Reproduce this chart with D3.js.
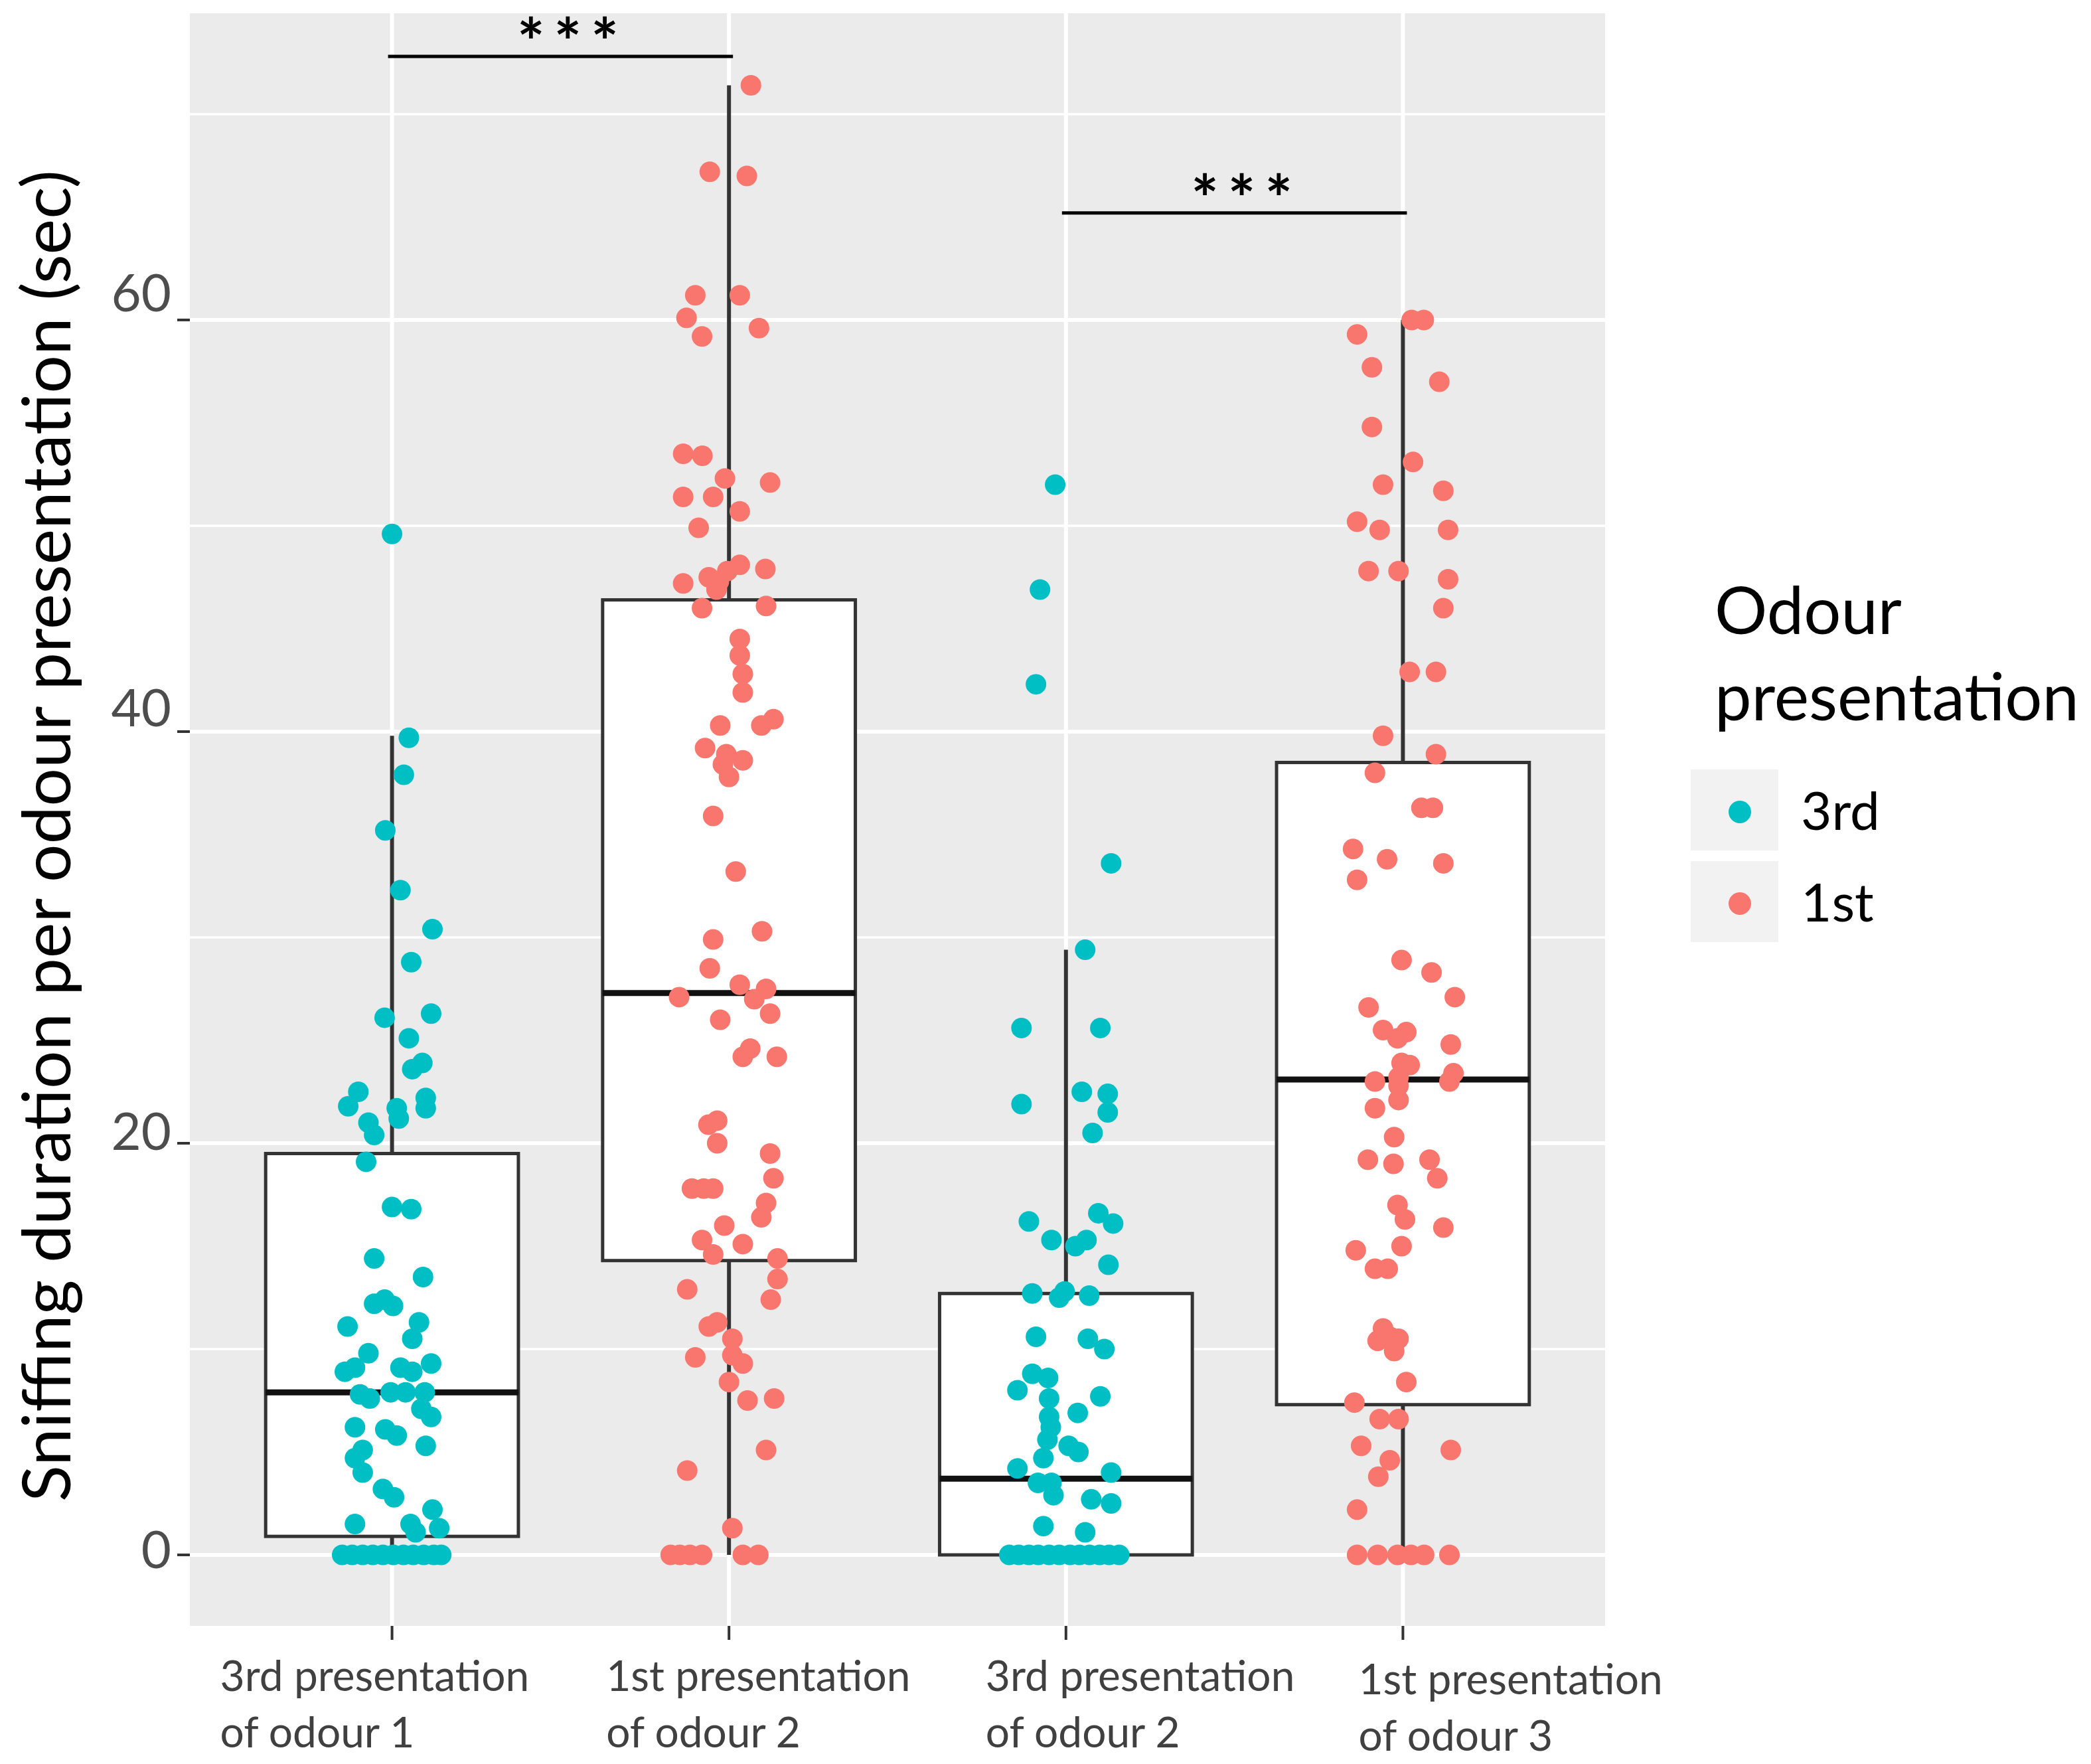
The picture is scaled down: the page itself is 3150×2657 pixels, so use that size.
<!DOCTYPE html>
<html lang="en">
<head>
<meta charset="utf-8">
<script src="https://d3js.org/d3.v7.min.js"></script>
<style type="text/css">
body {
  margin: 0;
  background: #fff;
}
svg text {
  font-family: Lato, "Open Sans", sans-serif;
}
</style>
</head>
<body>
<script type="text/javascript">

// ---- data ----
var categories = ["3rd presentation\nof odour 1", "1st presentation\nof odour 2",
                  "3rd presentation\nof odour 2", "1st presentation\nof odour 3"];
var groupSeries = ["3rd", "1st", "3rd", "1st"];
var seriesNames = ["3rd", "1st"];
var seriesColors = ["#00BFC4", "#F8766D"];

// box statistics (sec)
var whiskerLow = [0, 0, 0, 0];
var q1 = [0.9, 14.3, 0, 7.3];
var median = [7.9, 27.3, 3.7, 23.1];
var q3 = [19.5, 46.4, 12.7, 38.5];
var whiskerHigh = [39.8, 71.4, 29.4, 60.0];

// jittered points: [offset from category (category units), value]
var pts1 = [[0,49.6],[0.05,39.7],[0.035,37.9],[-0.02,35.2],[0.025,32.3],[0.12,30.4],[0.057,28.8],
  [-0.022,26.1],[0.116,26.3],[0.05,25.1],[0.06,23.6],[0.09,23.9],[-0.1,22.5],[-0.13,21.8],
  [-0.07,21.0],[-0.053,20.4],[0.014,21.7],[0.02,21.2],[0.1,22.2],[0.1,21.7],[-0.077,19.1],
  [0,16.9],[0.057,16.8],[-0.053,14.4],[0.092,13.5],[-0.053,12.2],[-0.022,12.4],[0.003,12.1],
  [-0.132,11.1],[0.08,11.3],[0.06,10.5],[-0.07,9.8],[-0.11,9.1],[-0.14,8.9],[0.025,9.1],
  [0.06,8.9],[0.116,9.3],[-0.095,7.8],[-0.066,7.6],[-0.004,7.9],[0.04,7.9],[0.097,7.9],
  [0.087,7.1],[0.116,6.7],[-0.11,6.2],[-0.02,6.1],[0.014,5.8],[0.1,5.3],[-0.087,5.1],
  [-0.11,4.7],[-0.087,4.0],[-0.027,3.2],[0.006,2.8],[-0.11,1.5],[0.055,1.5],[0.07,1.1],
  [0.12,2.2],[0.14,1.3],[-0.148,0],[-0.118,0],[-0.087,0],[-0.057,0],[-0.027,0],[0.004,0],
  [0.034,0],[0.063,0],[0.094,0],[0.124,0],[0.146,0]];

var pts2 = [[0.065,71.4],[-0.057,67.2],[0.053,67.0],[-0.1,61.2],[0.032,61.2],[-0.126,60.1],
  [-0.08,59.2],[0.089,59.6],[-0.136,53.5],[-0.079,53.4],[-0.012,52.3],[0.122,52.1],
  [-0.136,51.4],[-0.047,51.4],[0.032,50.7],[-0.09,49.9],[-0.136,47.2],[-0.06,47.5],
  [-0.03,47.3],[-0.005,47.8],[-0.037,46.9],[0.032,48.1],[0.108,47.9],[-0.08,46.0],
  [0.11,46.1],[0.032,44.5],[0.032,43.7],[0.041,42.8],[0.041,41.9],[-0.026,40.3],
  [0.096,40.3],[0.132,40.6],[-0.071,39.2],[-0.008,38.9],[-0.018,38.4],[0.041,38.6],
  [0,37.8],[-0.047,35.9],[0.02,33.2],[-0.047,29.9],[0.098,30.3],[-0.057,28.5],[0.032,27.7],
  [-0.148,27.1],[0.075,27.0],[0.11,27.5],[-0.026,26.0],[0.122,26.3],[0.063,24.6],
  [0.041,24.2],[0.142,24.2],[-0.035,21.1],[-0.061,20.9],[-0.035,20.0],[0.122,19.5],
  [0.132,18.3],[-0.11,17.8],[-0.075,17.8],[-0.047,17.8],[0.11,17.1],[0.096,16.4],
  [-0.014,16.0],[-0.08,15.3],[-0.047,14.6],[0.041,15.1],[0.144,14.4],[0.144,13.4],
  [-0.124,12.9],[0.124,12.4],[-0.035,11.3],[-0.06,11.1],[0.01,10.5],[-0.1,9.6],[0.01,9.7],
  [0.041,9.3],[0,8.4],[0.055,7.5],[0.134,7.6],[0.11,5.1],[-0.124,4.1],[0.01,1.3],
  [-0.173,0],[-0.146,0],[-0.116,0],[-0.08,0],[0.041,0],[0.087,0]];

var pts3 = [[-0.032,52.0],[-0.077,46.9],[-0.089,42.3],[0.134,33.6],[0.057,29.4],[-0.132,25.6],
  [0.102,25.6],[-0.132,21.9],[0.047,22.5],[0.124,22.4],[0.124,21.5],[0.079,20.5],
  [-0.11,16.2],[-0.043,15.3],[0.028,15.0],[0.061,15.3],[0.096,16.6],[0.14,16.1],
  [0.126,14.1],[-0.1,12.7],[-0.02,12.5],[-0.004,12.8],[0.069,12.6],[-0.089,10.6],
  [0.065,10.5],[0.114,10.0],[-0.144,8.0],[-0.1,8.8],[-0.053,8.6],[0.102,7.7],[-0.05,7.6],
  [-0.05,6.7],[-0.045,6.2],[-0.055,5.6],[0.035,6.9],[0.008,5.3],[0.037,5.0],[-0.067,4.7],
  [-0.144,4.2],[-0.083,3.5],[-0.043,3.5],[-0.037,2.9],[0.134,4.0],[0.075,2.7],[0.134,2.5],
  [-0.067,1.4],[0.057,1.1],[-0.168,0],[-0.14,0],[-0.11,0],[-0.082,0],[-0.05,0],[-0.02,0],
  [0.012,0],[0.04,0],[0.07,0],[0.1,0],[0.128,0],[0.158,0]];

var pts4 = [[0.026,60.0],[0.062,60.0],[-0.136,59.3],[-0.092,57.7],[0.108,57.0],[-0.092,54.8],
  [0.03,53.1],[-0.059,52.0],[0.12,51.7],[-0.136,50.2],[-0.069,49.8],[0.134,49.8],
  [-0.102,47.8],[-0.013,47.8],[0.134,47.4],[0.12,46.0],[0.02,42.9],[0.098,42.9],
  [-0.059,39.8],[0.098,38.9],[-0.083,38.0],[0.055,36.3],[0.089,36.3],[-0.148,34.3],
  [-0.047,33.8],[0.12,33.6],[-0.136,32.8],[-0.004,28.9],[0.085,28.3],[0.154,27.1],
  [-0.102,26.6],[-0.059,25.5],[-0.016,25.1],[0.01,25.4],[0.142,24.8],[-0.004,23.9],
  [0.02,23.8],[-0.083,23.0],[-0.013,23.2],[-0.013,22.8],[0.15,23.4],[0.138,23.0],
  [-0.083,21.7],[-0.013,22.1],[-0.026,20.3],[-0.104,19.2],[-0.028,19.0],[0.079,19.2],
  [0.102,18.3],[-0.016,17.0],[0.006,16.3],[0.12,15.9],[-0.14,14.8],[-0.004,15.0],
  [-0.083,13.9],[-0.045,13.9],[-0.059,11.0],[-0.075,10.4],[-0.039,10.6],[-0.013,10.5],
  [-0.026,9.9],[0.01,8.4],[-0.144,7.4],[-0.069,6.6],[-0.013,6.6],[-0.124,5.3],[0.142,5.1],
  [-0.039,4.6],[-0.073,3.8],[-0.136,2.2],[-0.136,0],[-0.075,0],[-0.016,0],[0.024,0],
  [0.063,0],[0.138,0]];

var points = [pts1, pts2, pts3, pts4];

// significance brackets
var sigPairs = [[0, 1], [2, 3]];
var sigLevel = [72.8, 65.2];
var sigLabels = ["***", "***"];

var yTicks = [0, 20, 40, 60];
var yMinor = [10, 30, 50, 70];
var yTitle = "Sniffing duration per odour presentation (sec)";
var legendTitle = ["Odour", "presentation"];

// ---- layout ----
var W = 3150, H = 2657;
var panel = {left: 286, right: 2418, top: 20, bottom: 2449};
var yLabelNudge = [-7, -17, -35, -40];
var xLabelDx = [-259, -185, -121, -67];
var xLabelBase = [2547, 2547, 2547, 2552];

var svg = d3.select("body").append("svg")
    .attr("width", W)
    .attr("height", H);

var x = d3.scaleLinear().domain([0.4, 4.6]).range([panel.left, panel.right]);
var y = d3.scaleLinear().domain([-3.45, 74.9]).range([panel.bottom, panel.top]);
var unit = x(1) - x(0);

// panel
svg.append("rect")
  .attr("x", panel.left).attr("y", panel.top)
  .attr("width", panel.right - panel.left)
  .attr("height", panel.bottom - panel.top)
  .attr("fill", "#EBEBEB");

svg.selectAll(".minor").data(yMinor).enter().append("line")
  .attr("x1", panel.left).attr("x2", panel.right)
  .attr("y1", function(d) { return y(d); })
  .attr("y2", function(d) { return y(d); })
  .attr("stroke", "#fff").attr("stroke-width", 3.5);

svg.selectAll(".major").data(yTicks).enter().append("line")
  .attr("x1", panel.left).attr("x2", panel.right)
  .attr("y1", function(d) { return y(d); })
  .attr("y2", function(d) { return y(d); })
  .attr("stroke", "#fff").attr("stroke-width", 6);

svg.selectAll(".vgrid").data(categories).enter().append("line")
  .attr("x1", function(d, i) { return x(i + 1); })
  .attr("x2", function(d, i) { return x(i + 1); })
  .attr("y1", panel.top).attr("y2", panel.bottom)
  .attr("stroke", "#fff").attr("stroke-width", 6);

// boxplots
var half = 0.375 * unit;
categories.forEach(function(c, i) {
  var cx = x(i + 1);
  var g = svg.append("g");
  g.append("line")
    .attr("x1", cx).attr("x2", cx)
    .attr("y1", y(q3[i])).attr("y2", y(whiskerHigh[i]))
    .attr("stroke", "#333").attr("stroke-width", 6);
  g.append("line")
    .attr("x1", cx).attr("x2", cx)
    .attr("y1", y(q1[i])).attr("y2", y(whiskerLow[i]))
    .attr("stroke", "#333").attr("stroke-width", 6);
  g.append("rect")
    .attr("x", cx - half).attr("width", 2 * half)
    .attr("y", y(q3[i])).attr("height", y(q1[i]) - y(q3[i]))
    .attr("fill", "#fff").attr("stroke", "#333").attr("stroke-width", 5);
  g.append("line")
    .attr("x1", cx - half).attr("x2", cx + half)
    .attr("y1", y(median[i])).attr("y2", y(median[i]))
    .attr("stroke", "#111").attr("stroke-width", 9);
});

// jittered points
points.forEach(function(pts, i) {
  var col = seriesColors[seriesNames.indexOf(groupSeries[i])];
  svg.append("g").selectAll("circle").data(pts).enter().append("circle")
    .attr("cx", function(d) { return x(i + 1 + d[0]); })
    .attr("cy", function(d) { return y(d[1]); })
    .attr("r", 15.5)
    .attr("fill", col);
});

// significance brackets
sigPairs.forEach(function(p, i) {
  svg.append("line")
    .attr("x1", x(p[0] + 1) - 6).attr("x2", x(p[1] + 1) + 6)
    .attr("y1", y(sigLevel[i])).attr("y2", y(sigLevel[i]))
    .attr("stroke", "#000").attr("stroke-width", 5);
  svg.append("text")
    .attr("x", (x(p[0] + 1) + x(p[1] + 1)) / 2 + 18)
    .attr("y", y(sigLevel[i]) + 14)
    .attr("text-anchor", "middle")
    .style("font-size", "98px")
    .style("font-weight", "bold")
    .style("letter-spacing", "14px")
    .attr("fill", "#000")
    .text(sigLabels[i]);
});

// y axis
yTicks.forEach(function(t, i) {
  svg.append("line")
    .attr("x1", panel.left - 19).attr("x2", panel.left)
    .attr("y1", y(t)).attr("y2", y(t))
    .attr("stroke", "#333").attr("stroke-width", 4);
  svg.append("text")
    .attr("x", 258)
    .attr("y", y(t) + yLabelNudge[i] + 27)
    .attr("text-anchor", "end")
    .style("font-size", "78px")
    .attr("fill", "#4D4D4D")
    .text(t);
});

// x axis
categories.forEach(function(c, i) {
  var cx = x(i + 1);
  svg.append("line")
    .attr("x1", cx).attr("x2", cx)
    .attr("y1", panel.bottom).attr("y2", panel.bottom + 21)
    .attr("stroke", "#333").attr("stroke-width", 4);
  var lines = c.split("\n");
  var t = svg.append("text")
    .attr("x", cx + xLabelDx[i])
    .attr("y", xLabelBase[i])
    .style("font-size", "64px")
    .attr("fill", "#404040");
  lines.forEach(function(l, j) {
    t.append("tspan")
      .attr("x", cx + xLabelDx[i])
      .attr("dy", j === 0 ? 0 : 85)
      .text(l);
  });
});

// fit a text to a target width by measuring it
function fitWidth(sel, target) {
  var fs = parseFloat(sel.style("font-size"));
  var w = sel.node().getComputedTextLength();
  sel.style("font-size", (fs * target / w) + "px");
}

var yt = svg.append("text")
  .attr("transform", "translate(106," + 1259 + ") rotate(-90)")
  .attr("text-anchor", "middle")
  .style("font-size", "100px")
  .attr("fill", "#000")
  .text(yTitle);
fitWidth(yt, 2006);

// legend
var lt1 = svg.append("text")
  .attr("x", 2583).attr("y", 955)
  .style("font-size", "100px")
  .attr("fill", "#000")
  .text(legendTitle[0]);
var lt2 = svg.append("text")
  .attr("x", 2583).attr("y", 1085)
  .style("font-size", "100px")
  .attr("fill", "#000")
  .text(legendTitle[1]);
fitWidth(lt2, 549);
lt1.style("font-size", lt2.style("font-size"));

seriesNames.forEach(function(s, i) {
  var ky = 1159 + i * 138;
  svg.append("rect")
    .attr("x", 2547).attr("y", ky)
    .attr("width", 132).attr("height", 122)
    .attr("fill", "#F2F2F2");
  svg.append("circle")
    .attr("cx", 2621).attr("cy", ky + 64)
    .attr("r", 17)
    .attr("fill", seriesColors[i]);
  svg.append("text")
    .attr("x", 2713).attr("y", ky + 91)
    .style("font-size", "80px")
    .attr("fill", "#000")
    .text(s);
});

</script>
</body>
</html>
